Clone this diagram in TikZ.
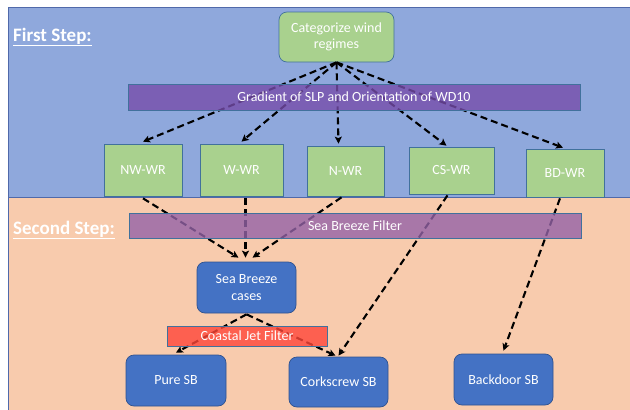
\documentclass[tikz,border=0pt]{standalone}
\usepackage{fontspec}
\setmainfont{Carlito}
\usetikzlibrary{arrows.meta,calc}
\definecolor{bgblue}{RGB}{143,168,220}
\definecolor{bgpeach}{RGB}{248,203,173}
\definecolor{bgborder}{RGB}{80,105,170}
\definecolor{wrgreen}{RGB}{169,209,142}
\definecolor{nodeborder}{RGB}{65,113,156}
\definecolor{sbblue}{RGB}{68,114,196}
\definecolor{sbborder}{RGB}{47,82,143}
\definecolor{barone}{RGB}{118,77,171}
\definecolor{bartwo}{RGB}{148,99,167}
\definecolor{barred}{RGB}{255,70,57}
\tikzset{
  lbl/.style={font=\fontsize{14}{16.5}\selectfont, text=white, align=center},
  greenbox/.style={lbl, draw=nodeborder, line width=0.7pt, fill=wrgreen, inner sep=0pt},
  bluebox/.style={lbl, draw=sbborder, line width=0.7pt, fill=sbblue, inner sep=0pt, rounded corners=8pt},
  barbox/.style={lbl, draw=nodeborder, line width=0.7pt, fill opacity=0.8, text opacity=1, inner sep=0pt},
  steplbl/.style={font=\bfseries\fontsize{19}{21}\selectfont, text=white, anchor=west, inner sep=0pt},
  arr/.style={draw=black, line width=2.1pt, dash pattern=on 7pt off 4pt, -{Stealth[length=7pt,width=7pt,inset=1.5pt]}}
}
\begin{document}
\begin{tikzpicture}[x=1pt,y=-1pt]
\useasboundingbox (0,0) rectangle (630,410);
\fill[white] (0,0) rectangle (630,410);
\draw[bgborder, line width=0.9pt, fill=bgblue] (8,7) rectangle (633,197);
\draw[bgborder, line width=0.9pt, fill=bgpeach] (8,197) rectangle (633,413);

\node[steplbl] (first) at (13,37) {\underline{First Step:}};
\node[steplbl] (second) at (13,230) {\underline{Second Step:}};

\node[greenbox, rounded corners=8pt, minimum width=115pt, minimum height=50pt] (cat) at (336.5,37) {Categorize wind\\regimes};
\node[greenbox, minimum width=78pt, minimum height=52pt] (nw) at (143,170) {NW-WR};
\node[greenbox, minimum width=83pt, minimum height=52pt] (w) at (241.5,170) {W-WR};
\node[greenbox, minimum width=77pt, minimum height=50pt] (n) at (345.5,171) {N-WR};
\node[greenbox, minimum width=85pt, minimum height=47pt] (cs) at (451.5,170.5) {CS-WR};
\node[greenbox, minimum width=78pt, minimum height=48pt] (bd) at (565,173) {BD-WR};

\node[bluebox, minimum width=99pt, minimum height=51pt] (sbc) at (246.5,287.5) {Sea Breeze\\cases};
\node[bluebox, minimum width=100pt, minimum height=51pt] (pure) at (176,380.5) {Pure SB};
\node[bluebox, minimum width=99pt, minimum height=50pt] (cork) at (338.5,382) {Corkscrew SB};
\node[bluebox, minimum width=99pt, minimum height=51pt] (back) at (503.5,379.5) {Backdoor SB};

\draw[arr] (cat.south) -- ([yshift=2pt]nw.north);
\draw[arr] (cat.south) -- ([yshift=2pt]w.north);
\draw[arr] (cat.south) -- ([xshift=-7pt,yshift=2pt]n.north);
\draw[arr] (cat.south) -- ([xshift=-5pt,yshift=1pt]cs.north);
\draw[arr] (cat.south) -- ([xshift=-2pt,yshift=1pt]bd.north);

\draw[arr] ([yshift=-2pt]nw.south) -- ([xshift=-8pt,yshift=4pt]sbc.north);
\draw[arr] ([xshift=4pt,yshift=-2pt]w.south) -- ([xshift=-1pt,yshift=4pt]sbc.north);
\draw[arr] ([xshift=-4pt,yshift=-1pt]n.south) -- ([xshift=6pt,yshift=4pt]sbc.north);
\draw[arr] ([xshift=-4pt,yshift=-1pt]cs.south) -- ([yshift=1pt]cork.north);
\draw[arr] ([xshift=-5pt,yshift=-1pt]bd.south) -- ([yshift=3pt]back.north);
\draw[arr] ([yshift=-1pt]sbc.south) -- ([yshift=2pt]pure.north);
\draw[arr] ([yshift=-1pt]sbc.south) -- ([xshift=-3pt,yshift=1pt]cork.north);

\node[barbox, fill=barone, minimum width=452pt, minimum height=26pt] (grad) at (354,97) {Gradient of SLP and Orientation of WD10};
\node[barbox, fill=bartwo, minimum width=452pt, minimum height=25pt] (sbf) at (355,225.5) {Sea Breeze Filter};
\node[barbox, fill=barred, minimum width=160pt, minimum height=20pt] (cjf) at (247,336) {Coastal Jet Filter};
\end{tikzpicture}
\end{document}
